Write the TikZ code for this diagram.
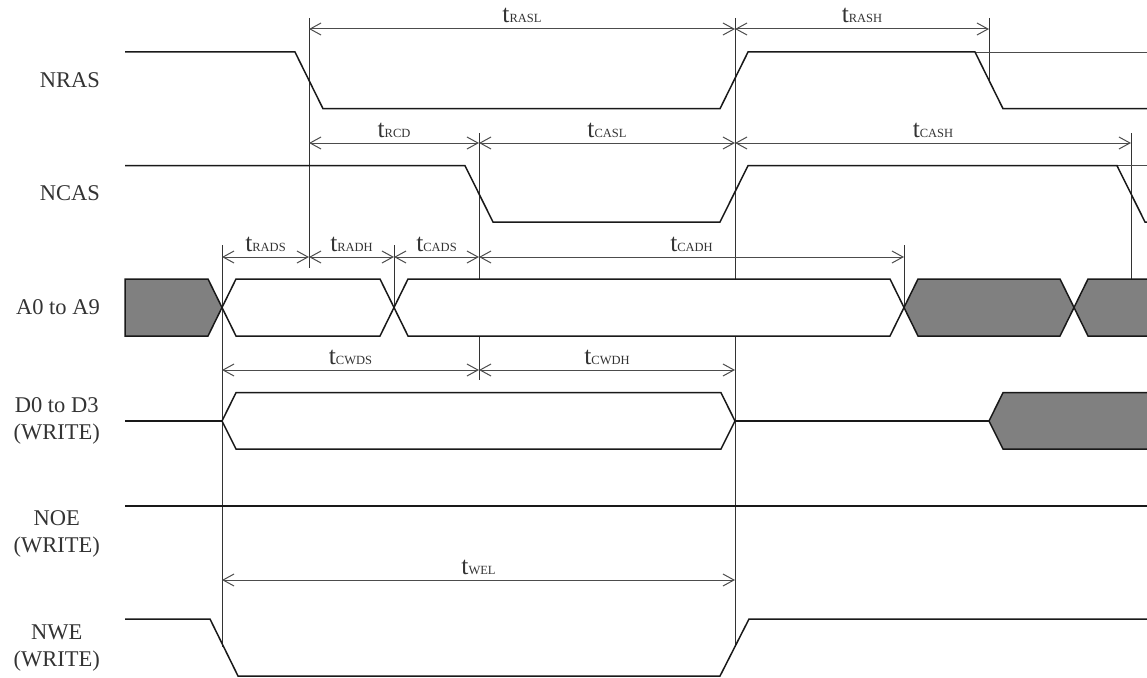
\documentclass[tikz,border=0pt]{standalone}
\usepackage{fontspec}
\setmainfont{Liberation Serif}
\usetikzlibrary{arrows.meta}
\newcommand{\tsub}[1]{{\fontsize{25.5}{25.5}\selectfont t}{\fontsize{12.5}{12.5}\selectfont #1}}
\tikzset{
  sig/.style={line width=1.5pt, draw=black!90, line join=miter},
  thinref/.style={line width=0.8pt, draw=black!70},
  vl/.style={line width=1pt, draw=black!80},
  dimline/.style={line width=1pt, draw=black!70,
    {Straight Barb[length=11pt,width=12pt,line width=1pt]}-{Straight Barb[length=11pt,width=12pt,line width=1pt]}},
  dlabel/.style={anchor=base, yshift=6pt, inner sep=0pt, text=black!80},
  siglabel/.style={anchor=east, align=center, inner sep=0pt, text=black!80,
    font=\fontsize{22.5}{27}\selectfont},
  grayfill/.style={fill=black!50},
}
\begin{document}
\begin{tikzpicture}[x=1pt,y=-1pt]
\useasboundingbox (0,0) rectangle (1147,677);

% signal labels
\node[siglabel] (lnras) at (100,80) {NRAS};
\node[siglabel] (lncas) at (100,193) {NCAS};
\node[siglabel] (la) at (100,307.5) {A0 to A9};
\node[siglabel] (ld) at (100,421) {D0 to D3\\(WRITE)};
\node[siglabel] (lnoe) at (100,534) {NOE\\(WRITE)};
\node[siglabel] (lnwe) at (100,648) {NWE\\(WRITE)};

% vertical reference lines
\draw[vl] (309,18) -- (309,268);
\draw[vl] (479,133) -- (479,380);
\draw[vl] (735,18) -- (735,647);
\draw[vl] (989,18) -- (989,80);
\draw[vl] (1131,133) -- (1131,279);
\draw[vl] (222,245) -- (222,647);
\draw[vl] (394,245) -- (394,307.5);
\draw[vl] (904,245) -- (904,307.5);

% NRAS
\draw[thinref] (975,52) -- (1147,52);
\draw[sig] (125,52) -- (295,52) -- (323,108.7) -- (720,108.7) -- (748,52) -- (975,52) -- (1003,108.7) -- (1147,108.7);

% NCAS
\draw[thinref] (1117,165.7) -- (1147,165.7);
\draw[sig] (125,165.7) -- (465,165.7) -- (493,222) -- (720,222) -- (748,165.7) -- (1117,165.7) -- (1145,222) -- (1147,222);

% A0 to A9
\draw[sig, grayfill] (125,279) -- (208,279) -- (222,307.5) -- (208,336) -- (125,336) -- cycle;
\draw[sig, fill=white] (222,307.5) -- (236,279) -- (380,279) -- (394,307.5) -- (380,336) -- (236,336) -- cycle;
\draw[sig, fill=white] (394,307.5) -- (408,279) -- (890,279) -- (904,307.5) -- (890,336) -- (408,336) -- cycle;
\draw[sig, grayfill] (904,307.5) -- (918,279) -- (1060,279) -- (1074,307.5) -- (1060,336) -- (918,336) -- cycle;
\fill[grayfill] (1074,307.5) -- (1088,279) -- (1147,279) -- (1147,336) -- (1088,336) -- cycle;
\draw[sig] (1147,279) -- (1088,279) -- (1074,307.5) -- (1088,336) -- (1147,336);

% D0 to D3
\draw[sig] (125,421) -- (222,421);
\draw[sig, fill=white] (222,421) -- (236,392.7) -- (721,392.7) -- (735,421) -- (721,449) -- (236,449) -- cycle;
\draw[sig] (735,421) -- (989,421);
\fill[grayfill] (989,421) -- (1003,392.7) -- (1147,392.7) -- (1147,449) -- (1003,449) -- cycle;
\draw[sig] (1147,392.7) -- (1003,392.7) -- (989,421) -- (1003,449) -- (1147,449);

% NOE
\draw[sig] (125,506) -- (1147,506);

% NWE
\draw[sig] (125,619) -- (210,619) -- (238,676) -- (720,676) -- (749,619) -- (1147,619);

% timing dimensions
\draw[dimline] (309,29) -- (735,29) node[midway, dlabel] (trasl) {\tsub{RASL}};
\draw[dimline] (735,29) -- (989,29) node[midway, dlabel] (trash) {\tsub{RASH}};

\draw[dimline] (309,143) -- (479,143) node[midway, dlabel] (trcd) {\tsub{RCD}};
\draw[dimline] (479,143) -- (735,143) node[midway, dlabel] (tcasl) {\tsub{CASL}};
\draw[dimline] (735,143) -- (1131,143) node[midway, dlabel] (tcash) {\tsub{CASH}};

\draw[dimline] (222,257) -- (309,257) node[midway, dlabel] (trads) {\tsub{RADS}};
\draw[dimline] (309,257) -- (394,257) node[midway, dlabel] (tradh) {\tsub{RADH}};
\draw[dimline] (394,257) -- (479,257) node[midway, dlabel] (tcads) {\tsub{CADS}};
\draw[dimline] (479,257) -- (904,257) node[midway, dlabel] (tcadh) {\tsub{CADH}};

\draw[dimline] (222,370) -- (479,370) node[midway, dlabel] (tcwds) {\tsub{CWDS}};
\draw[dimline] (479,370) -- (735,370) node[midway, dlabel] (tcwdh) {\tsub{CWDH}};

\draw[dimline] (222,580) -- (735,580) node[midway, dlabel] (twel) {\tsub{WEL}};
\end{tikzpicture}
\end{document}
